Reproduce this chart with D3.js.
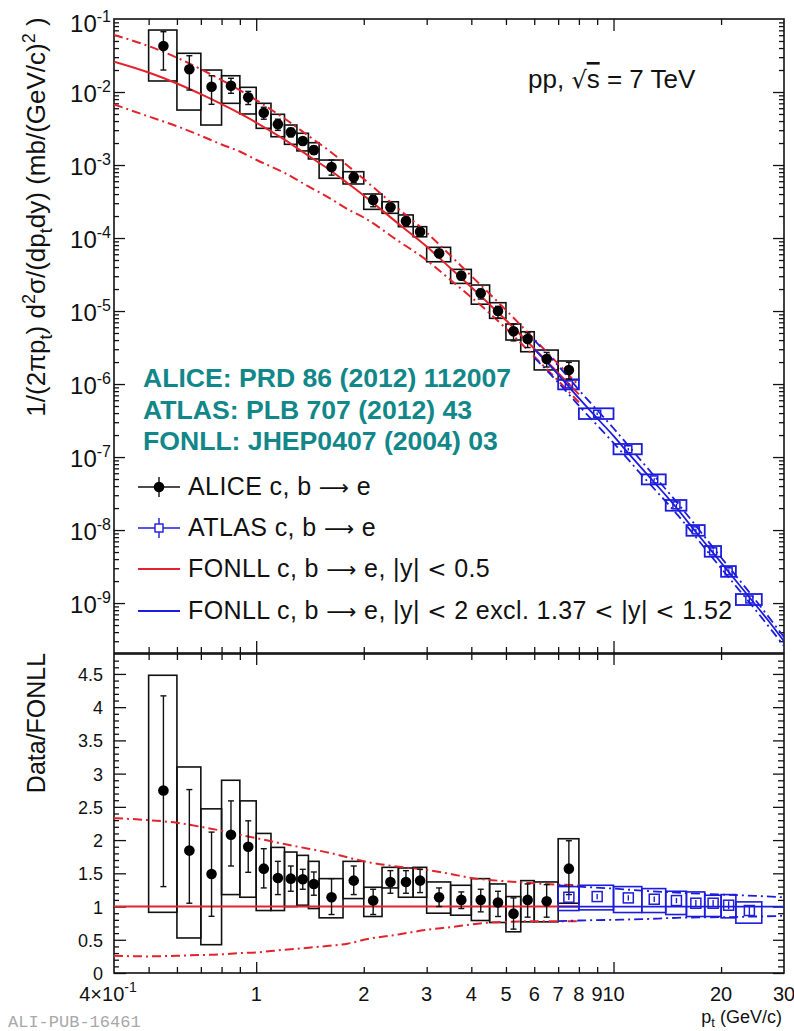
<!DOCTYPE html>
<html>
<head>
<meta charset="utf-8">
<script src="https://cdn.jsdelivr.net/npm/d3@7"></script>
<style>
  body { margin: 0; background: #fff; }
  svg { display: block; }
  text { font-family: "Liberation Sans", Arial, Helvetica, sans-serif; fill: #111; }
  tspan.sym { font-family: "DejaVu Sans", sans-serif; }
  text.stamp { font-family: "Liberation Mono", "DejaVu Sans Mono", monospace; fill: #a8a8a8; }
</style>
</head>
<body>
<svg id="chart" width="794" height="1031"></svg>
<script>
// ALICE c,b -> e (pp 7 TeV), bins in pt (GeV/c)
const aliceLo = [0.5,0.6,0.7,0.8,0.9,1.0,1.1,1.2,1.3,1.4,1.5,1.75,2.0,2.25,2.5,2.75,3.0,3.5,4.0,4.5,5.0,5.5,6.0,7.0];
const aliceHi = [0.6,0.7,0.8,0.9,1.0,1.1,1.2,1.3,1.4,1.5,1.75,2.0,2.25,2.5,2.75,3.0,3.5,4.0,4.5,5.0,5.5,6.0,7.0,8.0];
const alicePt = [0.55,0.65,0.75,0.85,0.95,1.05,1.15,1.25,1.35,1.45,1.625,1.875,2.125,2.375,2.625,2.875,3.25,3.75,4.25,4.75,5.25,5.75,6.5,7.5];
const aliceVal = [0.0427,0.02047,0.01183,0.01219,0.00845,0.0052,0.00361,0.00281,0.00213,0.0016,0.00094,0.000679,0.000332,0.000264,0.000171,0.000122,6.17e-5,3.05e-5,1.75e-5,1.0e-5,5.27e-6,4.13e-6,2.2e-6,1.56e-6];
const aliceErrHi = [0.067,0.0314,0.0167,0.01542,0.0102,0.00619,0.00424,0.00319,0.00236,0.00181,0.00117,0.000786,0.000384,0.000297,0.000192,0.000137,6.93e-5,3.38e-5,2.0e-5,1.16e-5,6.67e-6,5.03e-6,2.71e-6,1.98e-6];
const aliceErrLo = [0.0200,0.01064,0.00679,0.0096,0.00674,0.00424,0.00298,0.00243,0.0019,0.0014,0.000726,0.000577,0.000268,0.000231,0.00015,0.000106,5.41e-5,2.69e-5,1.46e-5,8.0e-6,3.9e-6,3.16e-6,1.71e-6,1.17e-6];
const aliceSysHi = [0.0706,0.0339,0.0200,0.0167,0.01159,0.0070,0.00495,0.00353,0.00272,0.00202,0.00117,0.00081,0.000401,0.000314,0.000207,0.000143,7.46e-5,3.72e-5,2.27e-5,1.30e-5,6.64e-6,5.2e-6,2.92e-6,2.07e-6];
const aliceSysLo = [0.01416,0.00566,0.00353,0.0070,0.0050,0.00318,0.00244,0.00192,0.00156,0.00121,0.000658,0.00055,0.000247,0.000218,0.000143,0.000104,4.73e-5,2.39e-5,1.24e-5,7.94e-6,4.01e-6,2.77e-6,1.56e-6,1.14e-6];

// ALICE / FONLL ratio
const aliceRatio = [2.745,1.842,1.49,2.08,1.90,1.57,1.43,1.42,1.41,1.34,1.14,1.39,1.09,1.37,1.37,1.39,1.14,1.10,1.10,1.06,0.893,1.10,1.08,1.57];
const aliceRatioErrHi = [4.17,2.76,2.12,2.59,2.29,1.87,1.68,1.61,1.56,1.52,1.42,1.61,1.26,1.54,1.54,1.56,1.28,1.22,1.26,1.23,1.13,1.34,1.33,1.99];
const aliceRatioErrLo = [1.30,1.05,0.853,1.61,1.515,1.28,1.18,1.23,1.26,1.17,0.88,1.18,0.88,1.20,1.20,1.21,1.00,0.97,0.92,0.85,0.66,0.84,0.84,1.18];
const aliceRatioSysHi = [4.48,3.10,2.47,2.90,2.59,2.10,1.89,1.82,1.77,1.68,1.42,1.68,1.29,1.59,1.58,1.59,1.37,1.32,1.42,1.34,1.15,1.39,1.37,2.02];
const aliceRatioSysLo = [0.913,0.527,0.426,1.18,1.14,0.94,0.94,1.0,1.02,0.97,0.83,1.12,0.85,1.28,1.14,1.14,0.90,0.87,0.79,0.76,0.62,0.77,0.77,1.05];

// ATLAS c,b -> e
const atlasLo = [7,8,10,12,14,16,18,20,22];
const atlasHi = [8,10,12,14,16,18,20,22,26];
const atlasPt = [7.5,9,11,13,15,17,19,21,24];
const atlasVal = [9.9e-7,3.92e-7,1.28e-7,4.94e-8,2.18e-8,9.9e-9,5.1e-9,2.72e-9,1.12e-9];
const atlasErrHi = [1.03e-6,4.08e-7,1.33e-7,5.14e-8,2.28e-8,1.04e-8,5.4e-9,2.9e-9,1.2e-9];
const atlasErrLo = [9.5e-7,3.76e-7,1.23e-7,4.74e-8,2.08e-8,9.4e-9,4.8e-9,2.54e-9,1.04e-9];
const atlasSysHi = [1.16e-6,4.65e-7,1.51e-7,5.79e-8,2.58e-8,1.17e-8,6.04e-9,3.21e-9,1.33e-9];
const atlasSysLo = [8.45e-7,3.32e-7,1.09e-7,4.22e-8,1.84e-8,8.35e-9,4.31e-9,2.29e-9,9.4e-10];
const atlasRatio = [1.14,1.15,1.13,1.11,1.09,1.05,1.05,1.02,0.94];
const atlasRatioErrHi = [1.18,1.19,1.17,1.15,1.13,1.10,1.10,1.08,1.01];
const atlasRatioErrLo = [1.10,1.11,1.09,1.07,1.05,1.00,1.00,0.96,0.87];
const atlasRatioSysHi = [1.30,1.32,1.30,1.27,1.23,1.22,1.17,1.18,1.07];
const atlasRatioSysLo = [0.94,0.95,0.91,0.91,0.88,0.85,0.85,0.83,0.75];

// FONLL |y|<0.5 (red)
const fonllPt = [0.4,0.5,0.6,0.7,0.8,0.9,1.0,1.2,1.4,1.6,1.8,2.0,2.5,3.0,3.5,4.0,4.5,5.0,6.0,7.0,8.0];
const fonllCen = [0.0260,0.01849,0.01306,0.00933,0.00681,0.00509,0.00382,0.00223,0.00134,0.000867,0.000566,0.000382,0.000157,7.65e-5,3.85e-5,2.11e-5,1.23e-5,7.48e-6,3.05e-6,1.42e-6,7.21e-7];
const fonllUp = [0.0606,0.0425,0.0295,0.0205,0.01457,0.01059,0.00775,0.00433,0.00251,0.00157,0.000985,0.000642,0.000251,1.186e-4,5.74e-5,3.02e-5,1.72e-5,1.03e-5,4.12e-6,1.89e-6,9.52e-7];
const fonllDn = [0.00676,0.00462,0.0034,0.00252,0.00191,0.00153,0.00118,0.00078,0.000509,0.000355,0.000249,0.000191,9.1e-5,4.97e-5,2.66e-5,1.54e-5,9.35e-6,5.76e-6,2.38e-6,1.11e-6,5.62e-7];
const fonllRatioUp = [2.33,2.30,2.26,2.20,2.14,2.08,2.03,1.94,1.87,1.81,1.74,1.68,1.60,1.55,1.49,1.43,1.40,1.38,1.35,1.33,1.32];
const fonllRatioDn = [0.26,0.25,0.26,0.27,0.28,0.30,0.31,0.35,0.38,0.41,0.44,0.50,0.58,0.65,0.69,0.73,0.76,0.77,0.78,0.78,0.78];

// FONLL ATLAS acceptance (blue)
const fonllAtlasPt = [6,7,8,9,10,11,12,13,14,15,17,19,21,24,27,30];
const fonllAtlasCen = [3.0e-6,1.35e-6,6.4e-7,3.4e-7,1.95e-7,1.13e-7,7.0e-8,4.5e-8,3.0e-8,2.02e-8,9.4e-9,4.86e-9,2.67e-9,1.2e-9,5.9e-10,3.0e-10];
const fonllAtlasBandPt = [6,7,8,10,12,15,20,25,30];
const fonllAtlasUp = [3.99e-6,1.78e-6,8.32e-7,2.48e-7,8.68e-8,2.44e-8,4.21e-9,1.09e-9,3.42e-10];
const fonllAtlasDn = [2.31e-6,1.05e-6,5.06e-7,1.56e-7,5.67e-8,1.68e-8,3.0e-9,7.99e-10,2.58e-10];
const fonllAtlasRatioPt = [7,8,10,12,15,20,25,30];
const fonllAtlasRatioUp = [1.32,1.30,1.27,1.24,1.21,1.18,1.16,1.14];
const fonllAtlasRatioDn = [0.78,0.79,0.80,0.81,0.83,0.84,0.85,0.86];

const xTickLabels = [0.4,1,2,3,4,5,6,7,8,9,10,20,30];
const yTopDecades = [-1,-2,-3,-4,-5,-6,-7,-8,-9];
const yBotLabels = [0,0.5,1,1.5,2,2.5,3,3.5,4,4.5];

const RED = '#e3222b';
const BLUE = '#1c1cdc';
const TEAL = '#12878a';
const DASHDOT = '9,4,2,4';

const svg = d3.select('#chart');
svg.append('rect').attr('width', 794).attr('height', 1031).attr('fill', '#fff');

const left = 114, right = 784;
const topY0 = 19, topY1 = 653, botY0 = 654, botY1 = 973;

const x = d3.scaleLog().domain([0.4, 30]).range([left, right]);
const yTop = d3.scaleLog().domain([2.07e-10, 0.1]).range([topY1, topY0]);
const yBot = d3.scaleLinear().domain([0, 4.8]).range([botY1, botY0]);

const defs = svg.append('defs');
defs.append('clipPath').attr('id', 'clipTop').append('rect')
  .attr('x', left).attr('y', topY0).attr('width', right - left).attr('height', topY1 - topY0);
defs.append('clipPath').attr('id', 'clipBot').append('rect')
  .attr('x', left).attr('y', botY0).attr('width', right - left).attr('height', botY1 - botY0);

// ---------- axes / ticks ----------
const isMajorLog = t => Math.abs(Math.log10(t) - Math.round(Math.log10(t))) < 1e-6;
const xTicks = x.ticks(30).filter(t => t > 0.4 && t < 30);
const xMajor = xTicks.filter(isMajorLog);
const xMinor = xTicks.filter(t => !isMajorLog(t));
const yTicks = yTop.ticks(40).filter(t => t > 2.07e-10 && t < 0.1);
const yMajor = yTicks.filter(isMajorLog);
const yMinor = yTicks.filter(t => !isMajorLog(t));
const yBotMinor = d3.range(0, 48).map(i => i / 10).filter(v => Math.round(v * 10) % 5 !== 0);
const yBotMajor = yBotLabels;

function ticks(axisFn, scale, values, size, tx, ty) {
  svg.append('g')
    .attr('transform', `translate(${tx},${ty})`)
    .call(axisFn(scale).tickValues(values).tickSize(size).tickFormat(''))
    .call(g => g.select('.domain').remove())
    .call(g => g.selectAll('line').attr('stroke', '#111').attr('stroke-width', 1.3));
}

// top panel
ticks(d3.axisBottom, x, xMajor, 12, 0, topY0);
ticks(d3.axisBottom, x, xMinor, 6, 0, topY0);
ticks(d3.axisTop, x, xMajor, 12, 0, topY1);
ticks(d3.axisTop, x, xMinor, 6, 0, topY1);
ticks(d3.axisRight, yTop, yMajor, 11, left, 0);
ticks(d3.axisRight, yTop, yMinor, 5, left, 0);
ticks(d3.axisLeft, yTop, yMajor, 11, right, 0);
ticks(d3.axisLeft, yTop, yMinor, 5, right, 0);
// bottom panel
ticks(d3.axisBottom, x, xMajor, 11, 0, botY0);
ticks(d3.axisBottom, x, xMinor, 6, 0, botY0);
ticks(d3.axisTop, x, xMajor, 11, 0, botY1);
ticks(d3.axisTop, x, xMinor, 6, 0, botY1);
ticks(d3.axisRight, yBot, yBotMajor, 12, left, 0);
ticks(d3.axisRight, yBot, yBotMinor, 5, left, 0);
ticks(d3.axisLeft, yBot, yBotMajor, 11, right, 0);
ticks(d3.axisLeft, yBot, yBotMinor, 6, right, 0);

// frames
[[topY0, topY1], [botY0, botY1]].forEach(([a, b]) => {
  svg.append('rect').attr('x', left).attr('y', a).attr('width', right - left).attr('height', b - a)
    .attr('fill', 'none').attr('stroke', '#111').attr('stroke-width', 1.6);
});

// tick labels: top y
yTopDecades.forEach(p => {
  const t = svg.append('text').attr('x', 111).attr('y', yTop(Math.pow(10, p)) + (p === -1 ? 13 : 10))
    .attr('text-anchor', 'end').attr('font-size', 24);
  t.append('tspan').text('10');
  t.append('tspan').attr('dy', -10).attr('font-size', 16).text(String(p));
});
// bottom y
yBotLabels.forEach(v => {
  svg.append('text').attr('x', 103).attr('y', yBot(v) + 7).attr('text-anchor', 'end')
    .attr('font-size', 18).text(String(v));
});
// x labels
xTickLabels.forEach(v => {
  const t = svg.append('text').attr('x', x(v)).attr('y', 1001).attr('text-anchor', 'middle').attr('font-size', 20);
  if (v === 0.4) {
    t.attr('dx', -6);
    t.append('tspan').text('4×10');
    t.append('tspan').attr('dy', -9).attr('font-size', 14).text('-1');
  } else {
    t.text(String(v));
  }
});
// x title
{
  const t = svg.append('text').attr('x', 782).attr('y', 1023).attr('text-anchor', 'end').attr('font-size', 18);
  t.append('tspan').text('p');
  t.append('tspan').attr('dy', 3.5).attr('font-size', 13).text('t');
  t.append('tspan').attr('dy', -3.5).text(' (GeV/c)');
}
// y title top
{
  const t = svg.append('text').attr('transform', 'translate(45,217) rotate(-90)')
    .attr('text-anchor', 'middle').attr('font-size', 26);
  t.append('tspan').text('1/(2πp');
  t.append('tspan').attr('dy', 7).attr('font-size', 18).text('t');
  t.append('tspan').attr('dy', -7).text(') d');
  t.append('tspan').attr('dy', -10).attr('font-size', 18).text('2');
  t.append('tspan').attr('dy', 10).text('σ/(dp');
  t.append('tspan').attr('dy', 7).attr('font-size', 18).text('t');
  t.append('tspan').attr('dy', -7).text('dy) (mb/(GeV/c)');
  t.append('tspan').attr('dy', -10).attr('font-size', 18).text('2');
  t.append('tspan').attr('dy', 10).text(' )');
}
// y title bottom
svg.append('text').attr('transform', 'translate(45,723) rotate(-90)')
  .attr('text-anchor', 'middle').attr('font-size', 25).text('Data/FONLL');

// ---------- top panel marks ----------
const gTop = svg.append('g').attr('clip-path', 'url(#clipTop)');
const gBot = svg.append('g').attr('clip-path', 'url(#clipBot)');

function boxes(g, yS, lo, hi, yLo, yHi, color, sw) {
  g.append('g').selectAll('rect').data(lo).join('rect')
    .attr('x', (d, i) => x(lo[i]))
    .attr('width', (d, i) => x(hi[i]) - x(lo[i]))
    .attr('y', (d, i) => yS(yHi[i]))
    .attr('height', (d, i) => yS(yLo[i]) - yS(yHi[i]))
    .attr('fill', 'none').attr('stroke', color).attr('stroke-width', sw);
}
function curve(g, yS, xs, ys, color, dash, sw) {
  g.append('path')
    .attr('d', d3.line().x((d, i) => x(xs[i])).y((d, i) => yS(ys[i])).curve(d3.curveMonotoneX)(xs))
    .attr('fill', 'none').attr('stroke', color).attr('stroke-width', sw)
    .attr('stroke-dasharray', dash || null);
}
function errBars(g, yS, xs, hi, lo, color, cap) {
  const e = g.append('g').attr('stroke', color).attr('stroke-width', 1.4);
  e.selectAll('line.v').data(xs).join('line').attr('class', 'v')
    .attr('x1', d => x(d)).attr('x2', d => x(d))
    .attr('y1', (d, i) => yS(hi[i])).attr('y2', (d, i) => yS(lo[i]));
  if (cap) {
    e.selectAll('line.c1').data(xs).join('line').attr('class', 'c1')
      .attr('x1', d => x(d) - cap).attr('x2', d => x(d) + cap)
      .attr('y1', (d, i) => yS(hi[i])).attr('y2', (d, i) => yS(hi[i]));
    e.selectAll('line.c2').data(xs).join('line').attr('class', 'c2')
      .attr('x1', d => x(d) - cap).attr('x2', d => x(d) + cap)
      .attr('y1', (d, i) => yS(lo[i])).attr('y2', (d, i) => yS(lo[i]));
  }
}
function dots(g, yS, xs, ys) {
  g.append('g').selectAll('circle').data(xs).join('circle')
    .attr('cx', d => x(d)).attr('cy', (d, i) => yS(ys[i])).attr('r', 5.3).attr('fill', '#000');
}
function squares(g, yS, xs, ys, s) {
  g.append('g').selectAll('rect').data(xs).join('rect')
    .attr('x', d => x(d) - s / 2).attr('y', (d, i) => yS(ys[i]) - s / 2)
    .attr('width', s).attr('height', s)
    .attr('fill', 'none').attr('stroke', BLUE).attr('stroke-width', 1.5);
}

// top
boxes(gTop, yTop, aliceLo, aliceHi, aliceSysLo, aliceSysHi, '#111', 1.6);
boxes(gTop, yTop, atlasLo, atlasHi, atlasSysLo, atlasSysHi, BLUE, 1.8);
curve(gTop, yTop, fonllPt, fonllCen, RED, null, 2);
curve(gTop, yTop, fonllPt, fonllUp, RED, DASHDOT, 2);
curve(gTop, yTop, fonllPt, fonllDn, RED, DASHDOT, 2);
curve(gTop, yTop, fonllAtlasPt, fonllAtlasCen, BLUE, null, 1.8);
curve(gTop, yTop, fonllAtlasBandPt, fonllAtlasUp, BLUE, DASHDOT, 1.8);
curve(gTop, yTop, fonllAtlasBandPt, fonllAtlasDn, BLUE, DASHDOT, 1.8);
errBars(gTop, yTop, alicePt, aliceErrHi, aliceErrLo, '#111', 3);
errBars(gTop, yTop, atlasPt, atlasErrHi, atlasErrLo, BLUE, 0);
squares(gTop, yTop, atlasPt, atlasVal, 7);
dots(gTop, yTop, alicePt, aliceVal);

// bottom
boxes(gBot, yBot, aliceLo, aliceHi, aliceRatioSysLo, aliceRatioSysHi, '#111', 1.6);
boxes(gBot, yBot, atlasLo, atlasHi, atlasRatioSysLo, atlasRatioSysHi, BLUE, 1.6);
curve(gBot, yBot, fonllPt, fonllPt.map(() => 1), RED, null, 2);
curve(gBot, yBot, fonllPt, fonllRatioUp, RED, DASHDOT, 2);
curve(gBot, yBot, fonllPt, fonllRatioDn, RED, DASHDOT, 2);
curve(gBot, yBot, fonllAtlasRatioPt, fonllAtlasRatioPt.map(() => 1), BLUE, null, 1.8);
curve(gBot, yBot, fonllAtlasRatioPt, fonllAtlasRatioUp, BLUE, DASHDOT, 1.8);
curve(gBot, yBot, fonllAtlasRatioPt, fonllAtlasRatioDn, BLUE, DASHDOT, 1.8);
errBars(gBot, yBot, alicePt, aliceRatioErrHi, aliceRatioErrLo, '#111', 3);
errBars(gBot, yBot, atlasPt, atlasRatioErrHi, atlasRatioErrLo, BLUE, 0);
squares(gBot, yBot, atlasPt, atlasRatio, 10);
dots(gBot, yBot, alicePt, aliceRatio);

// ---------- texts and legend ----------
{
  const t = svg.append('text').attr('x', 528).attr('y', 88).attr('font-size', 26);
  t.append('tspan').text('pp, ');
  t.append('tspan').attr('class', 'sym').attr('font-size', 24).text('√');
  t.append('tspan').style('text-decoration', 'overline').text('s');
  t.append('tspan').text(' = 7 TeV');
}
['ALICE: PRD 86 (2012) 112007', 'ATLAS: PLB 707 (2012) 43', 'FONLL: JHEP0407 (2004) 03'].forEach((s, i) => {
  svg.append('text').attr('x', 143).attr('y', 387 + i * 31.5).attr('font-size', 26.6)
    .attr('font-weight', 'bold').style('fill', TEAL).text(s);
});

// legend: text parts, arrow and "<" from DejaVu Sans (wider, like the original symbol font)
const legend = [
  { y: 487, kind: 'alice', label: ['ALICE c, b ', '⟶', ' e'] },
  { y: 528, kind: 'atlas', label: ['ATLAS c, b ', '⟶', ' e'] },
  { y: 569, kind: 'red', label: ['FONLL c, b ', '⟶', ' e, |y| ', '<', ' 0.5'] },
  { y: 611, kind: 'blue', label: ['FONLL c, b ', '⟶', ' e, |y| ', '<', ' 2 excl. 1.37 ', '<', ' |y| ', '<', ' 1.52'] }
];
legend.forEach(e => {
  const col = e.kind === 'alice' ? '#111' : (e.kind === 'atlas' || e.kind === 'blue') ? BLUE : RED;
  svg.append('line').attr('x1', 138).attr('x2', 180).attr('y1', e.y).attr('y2', e.y)
    .attr('stroke', col).attr('stroke-width', e.kind === 'red' || e.kind === 'blue' ? 2 : 1.4);
  if (e.kind === 'alice') {
    svg.append('line').attr('x1', 159).attr('x2', 159).attr('y1', e.y - 10).attr('y2', e.y + 10)
      .attr('stroke', col).attr('stroke-width', 1.4);
    svg.append('circle').attr('cx', 159).attr('cy', e.y).attr('r', 5.3).attr('fill', '#000');
  }
  if (e.kind === 'atlas') {
    svg.append('line').attr('x1', 159).attr('x2', 159).attr('y1', e.y - 10).attr('y2', e.y + 10)
      .attr('stroke', col).attr('stroke-width', 1.4);
    svg.append('rect').attr('x', 155).attr('y', e.y - 4).attr('width', 8).attr('height', 8)
      .attr('fill', '#fff').attr('stroke', col).attr('stroke-width', 1.4);
  }
  const t = svg.append('text').attr('x', 188).attr('y', e.y + 8).attr('font-size', 25)
    .attr('letter-spacing', 0.4);
  e.label.forEach(part => {
    const sp = t.append('tspan').text(part);
    if (part === '⟶' || part === '<') sp.attr('class', 'sym').attr('font-size', part === '<' ? 23 : 21);
  });
});

svg.append('text').attr('class', 'stamp').attr('x', 8).attr('y', 1027).attr('font-size', 17)
  .text('ALI-PUB-16461');
</script>
</body>
</html>
